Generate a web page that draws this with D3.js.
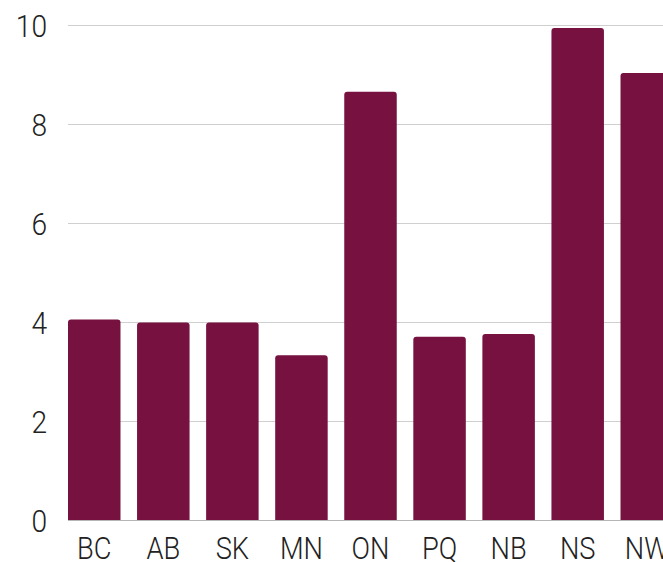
<!DOCTYPE html>
<html>
<head>
<meta charset="utf-8">
<script src="https://cdn.jsdelivr.net/npm/d3@7"></script>
<style>
  body { margin: 0; background: #fff; }
  svg text { font-family: "Roboto", sans-serif; font-weight: 300; fill: #222; }
</style>
</head>
<body>
<svg id="chart" width="663" height="562"></svg>
<script>

const provinces = ["BC", "AB", "SK", "MN", "ON", "PQ", "NB", "NS", "NW"];
const values = [4.05, 3.99, 3.99, 3.33, 8.65, 3.70, 3.76, 9.94, 9.03];
const yTicks = [0, 2, 4, 6, 8, 10];

const svg = d3.select("#chart");

const x = d3.scaleBand()
    .domain(provinces)
    .range([68, 673])
    .paddingInner(0.24)
    .paddingOuter(0);

const y = d3.scaleLinear()
    .domain([0, 10])
    .range([520, 25]);

// gridlines
svg.append("g")
    .selectAll("line")
    .data(yTicks.filter(d => d > 0))
    .enter()
    .append("line")
    .attr("x1", 68)
    .attr("x2", 663)
    .attr("y1", d => Math.round(y(d)) + 0.5)
    .attr("y2", d => Math.round(y(d)) + 0.5)
    .attr("stroke", "#cfcfcf")
    .attr("stroke-width", 1);

// y labels, squeezed a little to look condensed
svg.append("g")
    .selectAll("text")
    .data(yTicks)
    .enter()
    .append("text")
    .attr("transform", d => `translate(47,${y(d)}) scale(0.88,1)`)
    .attr("dy", "0.36em")
    .attr("text-anchor", "end")
    .attr("font-size", 32)
    .text(d => d);

// bars with rounded tops
const r = 3;
svg.append("g")
    .selectAll("path")
    .data(provinces)
    .enter()
    .append("path")
    .attr("fill", "#761140")
    .attr("d", (d, i) => {
        const x0 = x(d);
        const x1 = x0 + x.bandwidth();
        const top = y(values[i]);
        const base = y(0);
        return `M${x0},${base} V${top + r} Q${x0},${top} ${x0 + r},${top} H${x1 - r} Q${x1},${top} ${x1},${top + r} V${base} Z`;
    });

// baseline
svg.append("line")
    .attr("x1", 68)
    .attr("x2", 663)
    .attr("y1", 520.5)
    .attr("y2", 520.5)
    .attr("stroke", "#b5b5b5")
    .attr("stroke-width", 1);

// x labels
svg.append("g")
    .selectAll("text")
    .data(provinces)
    .enter()
    .append("text")
    .attr("transform", d => `translate(${x(d) + x.bandwidth() / 2},559) scale(0.88,1)`)
    .attr("text-anchor", "middle")
    .attr("font-size", 31)
    .text(d => d);

</script>
</body>
</html>
